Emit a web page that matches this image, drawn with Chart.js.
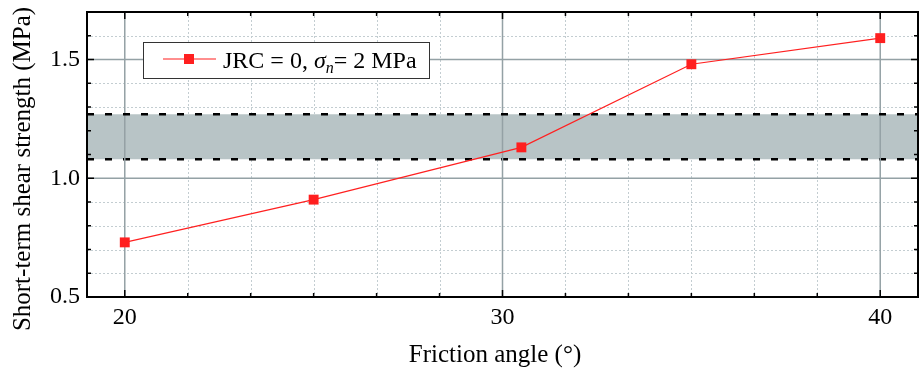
<!DOCTYPE html>
<html>
<head>
<meta charset="utf-8">
<script src="https://cdn.jsdelivr.net/npm/chart.js@4.4.0/dist/chart.umd.min.js"></script>
<style>
  body { margin: 0; background: #fff; }
</style>
</head>
<body>
<canvas id="shearChart" width="922" height="368"></canvas>
<script>
// data
const frictionAngle = [20, 25, 30.5, 35, 40];
const shearStrength = [0.73, 0.91, 1.13, 1.48, 1.59];
const xTickLabels = [20, 30, 40];
const yTickLabels = [0.5, 1.0, 1.5];
const xRange = [19, 41];
const yRange = [0.5, 1.7];
const bandUpper = 1.27;
const bandLower = 1.08;
const xTitle = 'Friction angle (°)';
const yTitle = 'Short-term shear strength (MPa)';

const serif = '"Liberation Serif", "Times New Roman", serif';

function minorValues(scale, majors, n) {
    const step = (majors[1] - majors[0]) / n;
    let v = majors[0];
    while (v - step > scale.min + 1e-6) v -= step;
    const out = [];
    for (; v < scale.max - 1e-6; v += step) {
        if (v <= scale.min + 1e-6) continue;
        if (majors.some(m => Math.abs(m - v) < 1e-6)) continue;
        out.push(v);
    }
    return out;
}

const framePlugin = {
    id: 'frame',
    beforeDatasetsDraw(chart) {
        const {ctx, chartArea: a, scales: {x, y}} = chart;
        ctx.save();
        ctx.strokeStyle = '#c3cdd1';
        ctx.lineWidth = 1;
        ctx.setLineDash([2, 2]);
        minorValues(x, xTickLabels, 6).forEach(v => {
            const px = Math.round(x.getPixelForValue(v)) + 0.5;
            ctx.beginPath(); ctx.moveTo(px, a.top); ctx.lineTo(px, a.bottom); ctx.stroke();
        });
        minorValues(y, yTickLabels, 5).forEach(v => {
            const py = Math.round(y.getPixelForValue(v)) + 0.5;
            ctx.beginPath(); ctx.moveTo(a.left, py); ctx.lineTo(a.right, py); ctx.stroke();
        });
        ctx.restore();
    },
    afterDatasetDraw(chart, args) {
        // major grid goes over the grey band
        if (args.index !== 2) return;
        const {ctx, chartArea: a, scales: {x, y}} = chart;
        ctx.save();
        ctx.strokeStyle = '#94a1a5';
        ctx.lineWidth = 1.5;
        xTickLabels.forEach(v => {
            const px = x.getPixelForValue(v);
            ctx.beginPath(); ctx.moveTo(px, a.top); ctx.lineTo(px, a.bottom); ctx.stroke();
        });
        yTickLabels.forEach(v => {
            const py = y.getPixelForValue(v);
            ctx.beginPath(); ctx.moveTo(a.left, py); ctx.lineTo(a.right, py); ctx.stroke();
        });
        ctx.restore();
    },
    afterDraw(chart) {
        const {ctx, chartArea: a, scales: {x, y}} = chart;
        ctx.save();
        ctx.strokeStyle = '#000';
        ctx.lineWidth = 2;
        ctx.strokeRect(a.left, a.top, a.right - a.left, a.bottom - a.top);

        // inward ticks on all four sides
        ctx.lineWidth = 1.5;
        const tick = (px, len) => {
            ctx.beginPath(); ctx.moveTo(px, a.bottom); ctx.lineTo(px, a.bottom - len); ctx.stroke();
            ctx.beginPath(); ctx.moveTo(px, a.top); ctx.lineTo(px, a.top + len); ctx.stroke();
        };
        const ytick = (py, len) => {
            ctx.beginPath(); ctx.moveTo(a.left, py); ctx.lineTo(a.left + len, py); ctx.stroke();
            ctx.beginPath(); ctx.moveTo(a.right, py); ctx.lineTo(a.right - len, py); ctx.stroke();
        };
        xTickLabels.forEach(v => tick(x.getPixelForValue(v), 7));
        minorValues(x, xTickLabels, 6).forEach(v => tick(x.getPixelForValue(v), 4));
        yTickLabels.forEach(v => ytick(y.getPixelForValue(v), 7));
        minorValues(y, yTickLabels, 5).forEach(v => ytick(y.getPixelForValue(v), 4));

        // axis titles
        ctx.fillStyle = '#000';
        ctx.font = '25px ' + serif;
        ctx.textAlign = 'center';
        ctx.textBaseline = 'middle';
        ctx.fillText(xTitle, 495, 355);
        ctx.save();
        ctx.translate(23, 169);
        ctx.rotate(-Math.PI / 2);
        ctx.fillText(yTitle, 0, 0);
        ctx.restore();

        // legend
        const bx = 143, by = 42, bw = 286, bh = 36;
        ctx.fillStyle = '#fff';
        ctx.fillRect(bx, by, bw, bh);
        ctx.strokeStyle = '#333';
        ctx.lineWidth = 1;
        ctx.strokeRect(bx + 0.5, by + 0.5, bw, bh);
        const my = by + 17;
        ctx.strokeStyle = '#ff1f1f';
        ctx.lineWidth = 1.2;
        ctx.beginPath(); ctx.moveTo(163, my); ctx.lineTo(216, my); ctx.stroke();
        ctx.fillStyle = '#ff1f1f';
        ctx.fillRect(184, my - 5, 10, 10);

        ctx.fillStyle = '#000';
        ctx.textAlign = 'left';
        ctx.textBaseline = 'alphabetic';
        let tx = 223;
        const ty = by + 26;
        ctx.font = '24px ' + serif;
        ctx.fillText('JRC = 0, ', tx, ty);
        tx += ctx.measureText('JRC = 0, ').width;
        ctx.font = 'italic 24px ' + serif;
        ctx.fillText('σ', tx, ty);
        tx += ctx.measureText('σ').width;
        ctx.font = 'italic 16px ' + serif;
        ctx.fillText('n', tx, ty + 5);
        tx += ctx.measureText('n').width;
        ctx.font = '24px ' + serif;
        ctx.fillText('= 2 MPa', tx, ty);
        ctx.restore();
    }
};

const bandLine = (val) => [{x: xRange[0], y: val}, {x: xRange[1], y: val}];

new Chart(document.getElementById('shearChart'), {
    type: 'line',
    data: {
        datasets: [
            {
                label: 'JRC = 0, σn = 2 MPa',
                data: frictionAngle.map((a, i) => ({x: a, y: shearStrength[i]})),
                borderColor: '#ff2020',
                backgroundColor: '#ff1f1f',
                borderWidth: 1.2,
                pointStyle: 'rect',
                pointRadius: 7,
                pointBorderWidth: 0,
                order: 0,
                fill: false
            },
            {
                label: 'upper',
                data: bandLine(bandUpper),
                borderColor: '#000',
                borderWidth: 2.5,
                borderDash: [7, 11],
                pointRadius: 0,
                order: 1,
                fill: false
            },
            {
                label: 'lower',
                data: bandLine(bandLower),
                borderColor: '#000',
                borderWidth: 2.5,
                borderDash: [7, 11],
                pointRadius: 0,
                backgroundColor: '#b8c4c6',
                order: 2,
                fill: '-1'
            }
        ]
    },
    options: {
        responsive: false,
        animation: false,
        layout: {autoPadding: false, padding: {left: 0, right: 4, top: 12, bottom: 0}},
        plugins: {
            legend: {display: false},
            tooltip: {enabled: false}
        },
        scales: {
            x: {
                type: 'linear',
                min: xRange[0],
                max: xRange[1],
                afterBuildTicks: s => { s.ticks = xTickLabels.map(v => ({value: v})); },
                afterFit: s => { s.height = 71; s.paddingLeft = 0; s.paddingRight = 0; },
                grid: {display: false, drawTicks: false},
                border: {display: false},
                ticks: {
                    color: '#000',
                    padding: 6,
                    maxRotation: 0,
                    font: {family: serif, size: 24}
                },
                title: {display: false}
            },
            y: {
                type: 'linear',
                min: yRange[0],
                max: yRange[1],
                afterBuildTicks: s => { s.ticks = yTickLabels.map(v => ({value: v})); },
                afterFit: s => { s.width = 87; s.paddingTop = 0; s.paddingBottom = 0; },
                grid: {display: false, drawTicks: false},
                border: {display: false},
                ticks: {
                    color: '#000',
                    padding: 7,
                    font: {family: serif, size: 24},
                    callback: v => v.toFixed(1)
                },
                title: {display: false}
            }
        }
    },
    plugins: [framePlugin]
});
</script>
</body>
</html>
